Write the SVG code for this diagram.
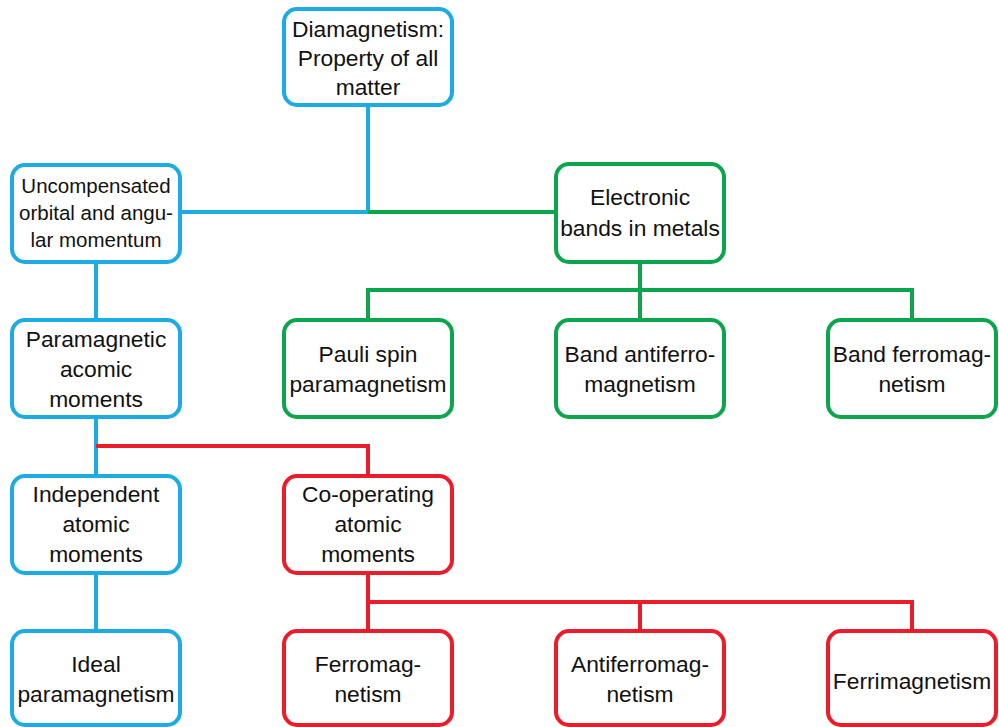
<svg xmlns="http://www.w3.org/2000/svg" width="999" height="727" viewBox="0 0 999 727">
<style>
  .box{fill:#fff;stroke-width:4}
  .b{stroke:#1CACE3}
  .g{stroke:#0BA54E}
  .r{stroke:#EC1C2A}
  .ln{fill:none;stroke-width:4}
  text{font-family:"Liberation Sans",Arial,sans-serif;font-size:22.8px;fill:#111;text-anchor:middle}
  .sm{font-size:20.5px}
</style>
<rect width="999" height="727" fill="#fff"/>
<g id="connectors">
  <path class="ln b" d="M368 107V212H180M96 262V320M96 418V476M96 573V631"/>
  <path class="ln g" d="M368 212H555M640 262V290M368 320V290H912V320M640 290V320"/>
  <path class="ln r" d="M96 446H368V476M368 573V602M368 631V602H912V631M640 602V631"/>
</g>
<g id="diamagnetism"><rect class="box b" x="284" y="9" width="168" height="96" rx="13"/>
  <text x="368" y="37">Diamagnetism:</text><text x="368" y="66">Property of all</text><text x="368" y="95">matter</text></g>
<g id="uncompensated"><rect class="box b" x="12" y="165" width="168" height="97" rx="13"/>
  <text class="sm" x="96" y="193">Uncompensated</text><text class="sm" x="96" y="220">orbital and angu-</text><text class="sm" x="96" y="247">lar momentum</text></g>
<g id="electronic"><rect class="box g" x="556" y="164" width="168" height="98" rx="13"/>
  <text x="640" y="205">Electronic</text><text x="640" y="236">bands in metals</text></g>
<g id="paramagnetic"><rect class="box b" x="12" y="320" width="168" height="97" rx="13"/>
  <text x="96" y="347">Paramagnetic</text><text x="96" y="377">acomic</text><text x="96" y="407">moments</text></g>
<g id="pauli"><rect class="box g" x="284" y="320" width="168" height="97" rx="13"/>
  <text x="368" y="362">Pauli spin</text><text x="368" y="392">paramagnetism</text></g>
<g id="bandantiferro"><rect class="box g" x="556" y="320" width="168" height="97" rx="13"/>
  <text x="640" y="362">Band antiferro-</text><text x="640" y="392">magnetism</text></g>
<g id="bandferro"><rect class="box g" x="828" y="320" width="168" height="97" rx="13"/>
  <text x="912" y="362">Band ferromag-</text><text x="912" y="392">netism</text></g>
<g id="independent"><rect class="box b" x="12" y="476" width="168" height="97" rx="13"/>
  <text x="96" y="502">Independent</text><text x="96" y="532">atomic</text><text x="96" y="562">moments</text></g>
<g id="cooperating"><rect class="box r" x="284" y="476" width="168" height="97" rx="13"/>
  <text x="368" y="502">Co-operating</text><text x="368" y="532">atomic</text><text x="368" y="562">moments</text></g>
<g id="ideal"><rect class="box b" x="12" y="631" width="168" height="94" rx="13"/>
  <text x="96" y="672">Ideal</text><text x="96" y="702">paramagnetism</text></g>
<g id="ferromag"><rect class="box r" x="284" y="631" width="168" height="94" rx="13"/>
  <text x="368" y="672">Ferromag-</text><text x="368" y="702">netism</text></g>
<g id="antiferromag"><rect class="box r" x="556" y="631" width="168" height="94" rx="13"/>
  <text x="640" y="672">Antiferromag-</text><text x="640" y="702">netism</text></g>
<g id="ferrimag"><rect class="box r" x="828" y="631" width="168" height="94" rx="13"/>
  <text x="912" y="689">Ferrimagnetism</text></g>
</svg>
